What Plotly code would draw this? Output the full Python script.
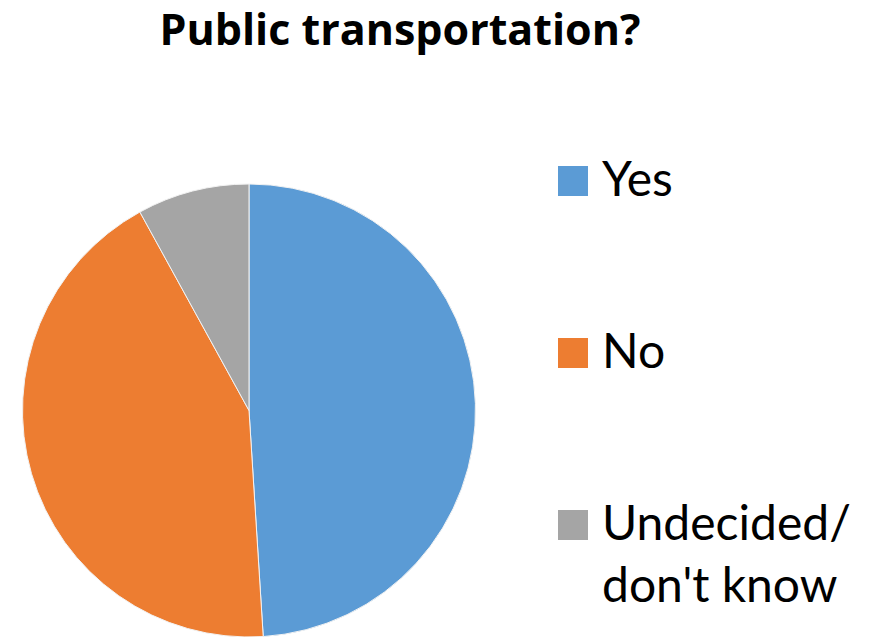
import plotly.graph_objects as go

# Survey answers.
labels = ["Yes", "No", "Undecided/<br>don't know"]
values = [49, 43, 8]
colors = ["#5B9BD5", "#ED7D31", "#A5A5A5"]

W, H = 872, 637

fig = go.Figure()
fig.add_trace(go.Pie(
    labels=labels,
    values=values,
    sort=False,
    direction="clockwise",
    rotation=0,
    textinfo="none",
    marker=dict(colors=colors, line=dict(color="#F2F2F2", width=1)),
    domain=dict(x=[21 / W, 477 / W], y=[0, 1 - 184 / H]),
    showlegend=False,
    hovertemplate="%{label}: %{value}<extra></extra>",
))

# Legend drawn by hand so the swatches can be as large as the original ones.
leg_x, sq = 558, 30
for i, (lab, col) in enumerate(zip(labels, colors)):
    cy = 181 + i * 172
    fig.add_shape(
        type="rect", xref="paper", yref="paper",
        x0=leg_x / W, x1=(leg_x + sq) / W,
        y0=1 - (cy + sq / 2) / H, y1=1 - (cy - sq / 2) / H,
        fillcolor=col, line_width=0,
    )
    fig.add_annotation(
        x=(leg_x + sq + 12) / W, y=1 - (cy - 34) / H,
        xref="paper", yref="paper", xanchor="left", yanchor="top",
        text=lab, showarrow=False, align="left",
        font=dict(family="Lato", size=48, color="#000000"),
    )

fig.update_layout(
    width=W, height=H,
    title=dict(
        text="<b>Public transportation?</b>",
        x=400 / W, xanchor="center",
        y=1 - 30 / H, yanchor="middle", yref="container",
        font=dict(family="Open Sans", size=43, color="#000000"),
    ),
    paper_bgcolor="white",
    plot_bgcolor="white",
    margin=dict(l=0, r=0, t=0, b=0),
)

# drop the browser's default 8px body margin so the figure sits at the window corner
fig.write_html(
    "out.html",
    config={"displayModeBar": False},
    post_script="document.body.style.margin = '0';",
)
